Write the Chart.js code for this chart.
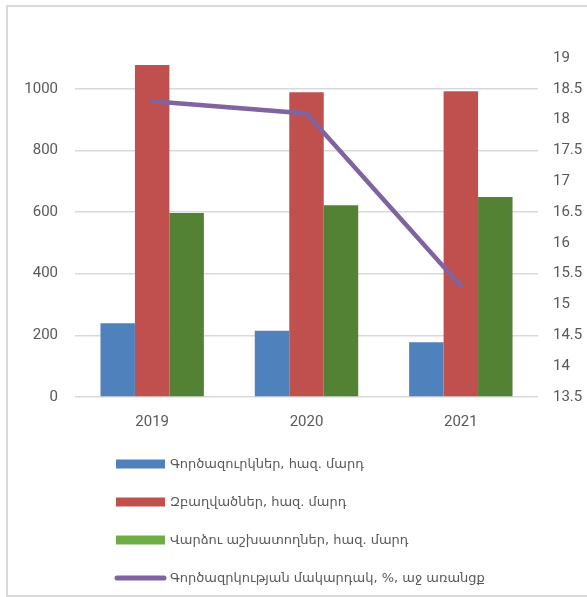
<!DOCTYPE html>
<html>
<head>
<meta charset="utf-8">
<script src="https://cdn.jsdelivr.net/npm/chart.js@4"></script>
<style>
  html, body { margin: 0; padding: 0; background: #fff; overflow: hidden; }
  #wrap { position: relative; width: 587px; height: 597px; }
  #frame { position: absolute; left: 6px; top: 5px; width: 620px; height: 592px;
           border: 2px solid #d9d9d9; box-sizing: border-box; }
  canvas { position: absolute; left: 0; top: 0; }
</style>
</head>
<body>
<div id="wrap">
  <div id="frame"></div>
  <canvas id="c" width="587" height="597"></canvas>
</div>
<script>
// Labour market indicators by year
const years = ['2019', '2020', '2021'];
const unemployed = [239, 215, 178];          // thousand people
const employed = [1077, 989, 992];           // thousand people
const hiredWorkers = [597, 622, 649];        // thousand people
const unemploymentRate = [18.3, 18.1, 15.3]; // %, right axis

const seriesNames = [
  'Գործազուրկներ, հազ. մարդ',
  'Զբաղվածներ, հազ. մարդ',
  'Վարձու աշխատողներ, հազ. մարդ',
  'Գործազրկության մակարդակ, %, աջ առանցք'
];

const leftTicks = [0, 200, 400, 600, 800, 1000];

const TEXT = '#595959';
const NUM_FONT = { family: 'Roboto, "DejaVu Sans", sans-serif', size: 15 };

// Legend drawn as a single column under the plot
const columnLegend = {
  id: 'columnLegend',
  afterDraw(chart) {
    const ctx = chart.ctx;
    const x0 = 116, boxW = 49, textX = 170, y0 = 464, step = 38;
    ctx.save();
    ctx.font = '13px "DejaVu Sans", sans-serif';
    ctx.textBaseline = 'middle';
    ctx.textAlign = 'left';
    chart.data.datasets.forEach((ds, i) => {
      const y = y0 + i * step;
      if (ds.type === 'line') {
        ctx.strokeStyle = ds.borderColor;
        ctx.lineWidth = 5;
        ctx.lineCap = 'round';
        ctx.beginPath();
        ctx.moveTo(x0 + 1, y);
        ctx.lineTo(x0 + boxW - 1, y);
        ctx.stroke();
      } else {
        ctx.fillStyle = ds.legendColor || ds.backgroundColor;
        ctx.fillRect(x0, y - 4.5, boxW, 9);
      }
      ctx.fillStyle = TEXT;
      ctx.fillText(ds.label, textX, y + 1);
    });
    ctx.restore();
  }
};

new Chart(document.getElementById('c'), {
  data: {
    labels: years,
    datasets: [
      { type: 'bar', label: seriesNames[0], data: unemployed, backgroundColor: '#4F81BD',
        yAxisID: 'y', order: 1 },
      { type: 'bar', label: seriesNames[1], data: employed, backgroundColor: '#C0504D',
        yAxisID: 'y', order: 1 },
      { type: 'bar', label: seriesNames[2], data: hiredWorkers, backgroundColor: '#548235',
        legendColor: '#70AD47', yAxisID: 'y', order: 1 },
      { type: 'line', label: seriesNames[3], data: unemploymentRate, borderColor: '#8064A2',
        backgroundColor: '#8064A2', borderWidth: 4.5, pointRadius: 0, borderCapStyle: 'round',
        tension: 0, yAxisID: 'y1', order: 0 }
    ]
  },
  options: {
    responsive: false,
    animation: false,
    layout: { padding: { top: 58, left: 0, right: 0, bottom: 0 } },
    datasets: { bar: { barPercentage: 1, categoryPercentage: 0.67, borderWidth: 0 } },
    plugins: { legend: { display: false }, tooltip: { enabled: false } },
    scales: {
      x: {
        grid: { display: false },
        border: { display: false },
        ticks: { color: TEXT, font: NUM_FONT, padding: 8 },
        afterFit: s => { s.height = 200; }
      },
      y: {
        position: 'left',
        min: 0,
        max: 1100,
        afterBuildTicks: s => { s.ticks = leftTicks.map(v => ({ value: v })); },
        ticks: { color: TEXT, font: NUM_FONT, padding: 17, callback: v => String(v) },
        grid: { color: '#d9d9d9', lineWidth: 1.5, drawTicks: false },
        border: { display: false },
        afterFit: s => { s.width = 75; }
      },
      y1: {
        position: 'right',
        min: 13.5,
        max: 19,
        ticks: { stepSize: 0.5, color: TEXT, font: NUM_FONT, padding: 15, callback: v => String(v) },
        grid: { display: false, drawTicks: false },
        border: { display: false },
        afterFit: s => { s.width = 49; }
      }
    }
  },
  plugins: [columnLegend]
});
</script>
</body>
</html>
